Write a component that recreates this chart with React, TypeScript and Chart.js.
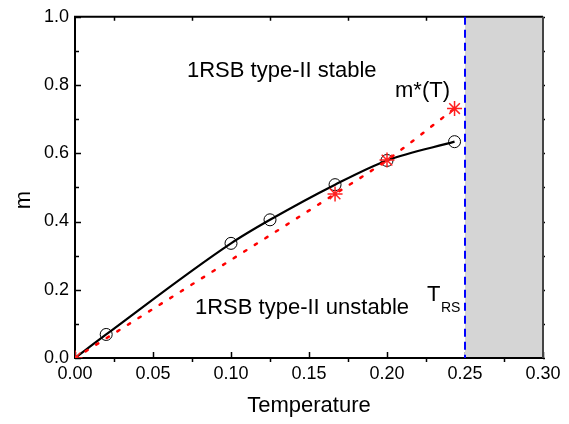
import React, { useEffect, useRef } from "react";
import { Chart, registerables } from "chart.js";

Chart.register(...registerables);

const blackT = [0, 0.02, 0.1, 0.125, 0.1667, 0.2, 0.2433];
const blackM = [0, 0.069, 0.336, 0.405, 0.508, 0.579, 0.634];
const blackRadius = [0, 6, 6, 6, 6, 6, 6];
const redT = [0, 0.1667, 0.2, 0.2433];
const redM = [0, 0.481, 0.58, 0.731];
const xTicks = [0, 0.05, 0.1, 0.15, 0.2, 0.25, 0.3];
const yTicks = [0, 0.2, 0.4, 0.6, 0.8, 1.0];
const TRS = 0.25;
const GRAY_TO = 0.3;

const FONT = "'Liberation Sans', Arial, sans-serif";

const overlay = {
  id: "overlay",
  beforeDatasetsDraw(chart: any) {
    const { ctx, chartArea: a, scales } = chart;
    const x = scales.x, y = scales.y;
    ctx.save();
    ctx.strokeStyle = "#000";
    ctx.lineWidth = 1.5;
    for (let v = 0; v <= 1.0001; v += 0.1) {
      const py = Math.round(y.getPixelForValue(v)) + 0.5;
      const major = Math.round(v * 10) % 2 === 0;
      ctx.beginPath();
      ctx.moveTo(a.left, py);
      ctx.lineTo(a.left + (major ? 6 : 4), py);
      ctx.stroke();
      ctx.beginPath();
      ctx.moveTo(a.right, py);
      ctx.lineTo(a.right + 2, py);
      ctx.stroke();
    }
    for (let v = 0; v <= 0.3001; v += 0.025) {
      const px = Math.round(x.getPixelForValue(v)) + 0.5;
      const major = Math.round(v * 40) % 2 === 0;
      ctx.beginPath();
      if (major) {
        ctx.moveTo(px, a.bottom);
        ctx.lineTo(px, a.bottom - 6);
      } else {
        ctx.moveTo(px, a.bottom);
        ctx.lineTo(px, a.bottom + 4);
        ctx.moveTo(px, a.top);
        ctx.lineTo(px, a.top + 4);
      }
      ctx.stroke();
    }
    const gx0 = x.getPixelForValue(TRS);
    const gx1 = x.getPixelForValue(GRAY_TO);
    ctx.fillStyle = "#d5d5d5";
    ctx.fillRect(gx0, a.top, gx1 - gx0, a.bottom - a.top);
    ctx.lineWidth = 2;
    ctx.strokeStyle = "#000";
    ctx.beginPath();
    ctx.moveTo(a.right, a.top);
    ctx.lineTo(a.left, a.top);
    ctx.lineTo(a.left, a.bottom);
    ctx.lineTo(a.right, a.bottom);
    ctx.stroke();
    ctx.strokeStyle = "#444";
    ctx.beginPath();
    ctx.moveTo(a.right, a.top);
    ctx.lineTo(a.right, a.bottom);
    ctx.stroke();
    ctx.strokeStyle = "#0000ff";
    ctx.lineWidth = 2;
    ctx.setLineDash([8, 5]);
    ctx.beginPath();
    ctx.moveTo(gx0, a.top);
    ctx.lineTo(gx0, a.bottom);
    ctx.stroke();
    ctx.restore();
  },
  afterDraw(chart: any) {
    const { ctx } = chart;
    ctx.save();
    ctx.fillStyle = "#000";
    ctx.textBaseline = "middle";
    ctx.textAlign = "left";
    ctx.font = `22px ${FONT}`;
    ctx.fillText("1RSB type-II stable", 187, 71);
    ctx.fillText("1RSB type-II unstable", 195, 308);
    ctx.fillText("m*(T)", 395, 91);
    ctx.fillText("T", 427, 295);
    ctx.font = `14px ${FONT}`;
    ctx.fillText("RS", 441, 308);
    ctx.font = `22px ${FONT}`;
    ctx.translate(24, 200);
    ctx.rotate(-Math.PI / 2);
    ctx.textAlign = "center";
    ctx.fillText("m", 0, 0);
    ctx.restore();
  },
};

export default function App() {
  const ref = useRef<HTMLCanvasElement>(null);
  useEffect(() => {
    const chart = new Chart(ref.current!, {
      type: "scatter",
      data: {
        datasets: [
          {
            label: "m*(T)",
            data: redT.map((t, i) => ({ x: t, y: redM[i] })),
            showLine: true,
            borderColor: "#ff0000",
            borderWidth: 2.5,
            borderDash: [2.5, 10],
            borderCapStyle: "round",
            cubicInterpolationMode: "monotone",
            pointStyle: "star",
            pointRadius: 7.5,
            pointBorderColor: "#ff2020",
            pointBackgroundColor: "#ff2020",
            pointBorderWidth: 1.5,
            order: 0,
          },
          {
            label: "m",
            data: blackT.map((t, i) => ({ x: t, y: blackM[i] })),
            showLine: true,
            borderColor: "#000",
            borderWidth: 2.2,
            cubicInterpolationMode: "monotone",
            pointStyle: "circle",
            pointRadius: blackRadius,
            pointBorderColor: "#000",
            pointBackgroundColor: "rgba(0,0,0,0)",
            pointBorderWidth: 1,
            order: 1,
          },
        ] as any,
      },
      options: {
        animation: false,
        responsive: false,
        layout: { padding: { top: 11, right: 26, left: 0, bottom: 0 } },
        plugins: { legend: { display: false }, tooltip: { enabled: false } },
        scales: {
          x: {
            type: "linear",
            min: 0,
            max: 0.3,
            grid: { display: false, drawTicks: false },
            border: { display: false },
            afterBuildTicks: (s: any) => {
              s.ticks = xTicks.map((v) => ({ value: v }));
            },
            afterFit: (s: any) => {
              s.height = 66;
            },
            ticks: {
              color: "#000",
              font: { family: FONT, size: 18 },
              padding: 5,
              maxRotation: 0,
              callback: (v: any) => Number(v).toFixed(2),
            },
            title: {
              display: true,
              text: "Temperature",
              color: "#000",
              font: { family: FONT, size: 22 },
              padding: { top: 0, bottom: 5 },
            },
          },
          y: {
            type: "linear",
            min: 0,
            max: 1,
            grid: { display: false, drawTicks: false },
            border: { display: false },
            afterBuildTicks: (s: any) => {
              s.ticks = yTicks.map((v) => ({ value: v }));
            },
            afterFit: (s: any) => {
              s.width = 75;
            },
            ticks: {
              color: "#000",
              font: { family: FONT, size: 18 },
              padding: 6,
              callback: (v: any) => Number(v).toFixed(1),
            },
          },
        },
      } as any,
      plugins: [overlay],
    });
    return () => chart.destroy();
  }, []);
  return (
    <div style={{ position: "fixed", left: 0, top: 0, width: 569, height: 424, background: "#fff" }}>
      <canvas ref={ref} width={569} height={424} />
    </div>
  );
}
